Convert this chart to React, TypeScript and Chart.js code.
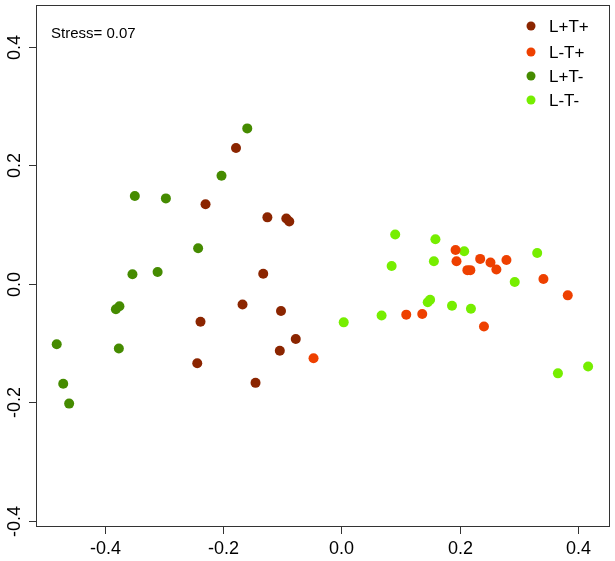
import React, { useEffect, useRef } from "react";
import { Chart, registerables } from "chart.js";

Chart.register(...registerables);

const seriesNames = ["L+T+", "L-T+", "L+T-", "L-T-"];
const seriesColors = ["#8B2500", "#EE4000", "#458B00", "#76EE00"];

const ltpX = [-0.178, -0.2295, -0.125, -0.093, -0.088, -0.132, -0.167, -0.102, -0.238, -0.077, -0.104, -0.2435, -0.145];
const ltpY = [0.229, 0.134, 0.112, 0.110, 0.105, 0.017, -0.035, -0.046, -0.064, -0.093, -0.113, -0.134, -0.167];

const lmtpX = [0.193, 0.1946, 0.213, 0.218, 0.2346, 0.252, 0.262, 0.279, 0.3415, 0.3826, 0.1097, 0.1367, 0.241, -0.047];
const lmtpY = [0.057, 0.038, 0.023, 0.023, 0.042, 0.036, 0.024, 0.040, 0.008, -0.0195, -0.052, -0.051, -0.072, -0.1255];

const ltmX = [-0.159, -0.2025, -0.242, -0.349, -0.2965, -0.353, -0.3105, -0.381, -0.375, -0.481, -0.376, -0.470, -0.460];
const ltmY = [0.262, 0.182, 0.060, 0.148, 0.144, 0.016, 0.020, -0.043, -0.038, -0.102, -0.109, -0.1685, -0.202];

const lmtmX = [0.091, 0.159, 0.2076, 0.331, 0.085, 0.1564, 0.293, 0.146, 0.150, 0.187, 0.219, 0.004, 0.068, 0.366, 0.417];
const lmtmY = [0.083, 0.075, 0.055, 0.052, 0.030, 0.038, 0.003, -0.031, -0.027, -0.037, -0.042, -0.065, -0.0535, -0.151, -0.1395];

const xTicks = [-0.4, -0.2, 0.0, 0.2, 0.4];
const yTicks = [-0.4, -0.2, 0.0, 0.2, 0.4];
const xRange = [-0.516, 0.454];
const yRange = [-0.41, 0.47];
const stressText = "Stress= 0.07";

const allX = [ltpX, lmtpX, ltmX, lmtmX];
const allY = [ltpY, lmtpY, ltmY, lmtmY];

const FONT = "'Liberation Sans', Arial, sans-serif";

const framePlugin = {
  id: "rframe",
  afterDraw(chart: any) {
    const { ctx, chartArea } = chart;
    const { left, right, top, bottom } = chartArea;
    const xs = chart.scales.x;
    const ys = chart.scales.y;
    ctx.save();
    ctx.strokeStyle = "#333333";
    ctx.lineWidth = 1;
    ctx.strokeRect(Math.round(left) + 0.5, Math.round(top) + 0.5, Math.round(right - left) - 1, Math.round(bottom - top) - 1);
    ctx.fillStyle = "#000000";
    ctx.font = `18px ${FONT}`;
    // x ticks
    ctx.textAlign = "center";
    ctx.textBaseline = "middle";
    xTicks.forEach((v) => {
      const px = Math.round(xs.getPixelForValue(v)) + 0.5;
      ctx.beginPath();
      ctx.moveTo(px, bottom);
      ctx.lineTo(px, bottom + 7);
      ctx.stroke();
      ctx.fillText(v.toFixed(1), px, bottom + 22);
    });
    // y ticks
    yTicks.forEach((v) => {
      const py = Math.round(ys.getPixelForValue(v)) + 0.5;
      ctx.beginPath();
      ctx.moveTo(left, py);
      ctx.lineTo(left - 7, py);
      ctx.stroke();
      ctx.save();
      ctx.translate(left - 21, py);
      ctx.rotate(-Math.PI / 2);
      ctx.fillText(v.toFixed(1), 0, 0);
      ctx.restore();
    });
    // stress text
    ctx.textAlign = "left";
    ctx.font = `15px ${FONT}`;
    ctx.fillText(stressText, left + 15, top + 29);
    // legend
    const legY = [26, 52, 76, 100];
    ctx.font = `17px ${FONT}`;
    seriesNames.forEach((name, i) => {
      ctx.fillStyle = seriesColors[i];
      ctx.beginPath();
      ctx.arc(531, legY[i], 4.5, 0, Math.PI * 2);
      ctx.fill();
      ctx.fillStyle = "#000000";
      ctx.fillText(name, 549, legY[i] + 1);
    });
    ctx.restore();
  },
};

export default function App() {
  const ref = useRef<HTMLCanvasElement | null>(null);
  useEffect(() => {
    document.body.style.margin = "0";
    const canvas = ref.current;
    if (!canvas) return;
    const datasets = seriesNames.map((name, i) => ({
      label: name,
      data: allX[i].map((x, j) => ({ x, y: allY[i][j] })),
      backgroundColor: seriesColors[i],
      borderColor: seriesColors[i],
      borderWidth: 0,
      pointRadius: 5,
      pointHoverRadius: 5,
    }));
    const chart = new Chart(canvas, {
      type: "scatter",
      data: { datasets },
      options: {
        responsive: false,
        animation: false,
        layout: { padding: { left: 36, right: 4, top: 1, bottom: 34 } },
        plugins: { legend: { display: false }, tooltip: { enabled: false } },
        scales: {
          x: { type: "linear", display: false, min: xRange[0], max: xRange[1] },
          y: { type: "linear", display: false, min: yRange[0], max: yRange[1] },
        },
      },
      plugins: [framePlugin],
    });
    return () => chart.destroy();
  }, []);
  return (
    <div style={{ width: 615, height: 561, background: "#fff" }}>
      <canvas ref={ref} width={615} height={561} style={{ display: "block" }} />
    </div>
  );
}
